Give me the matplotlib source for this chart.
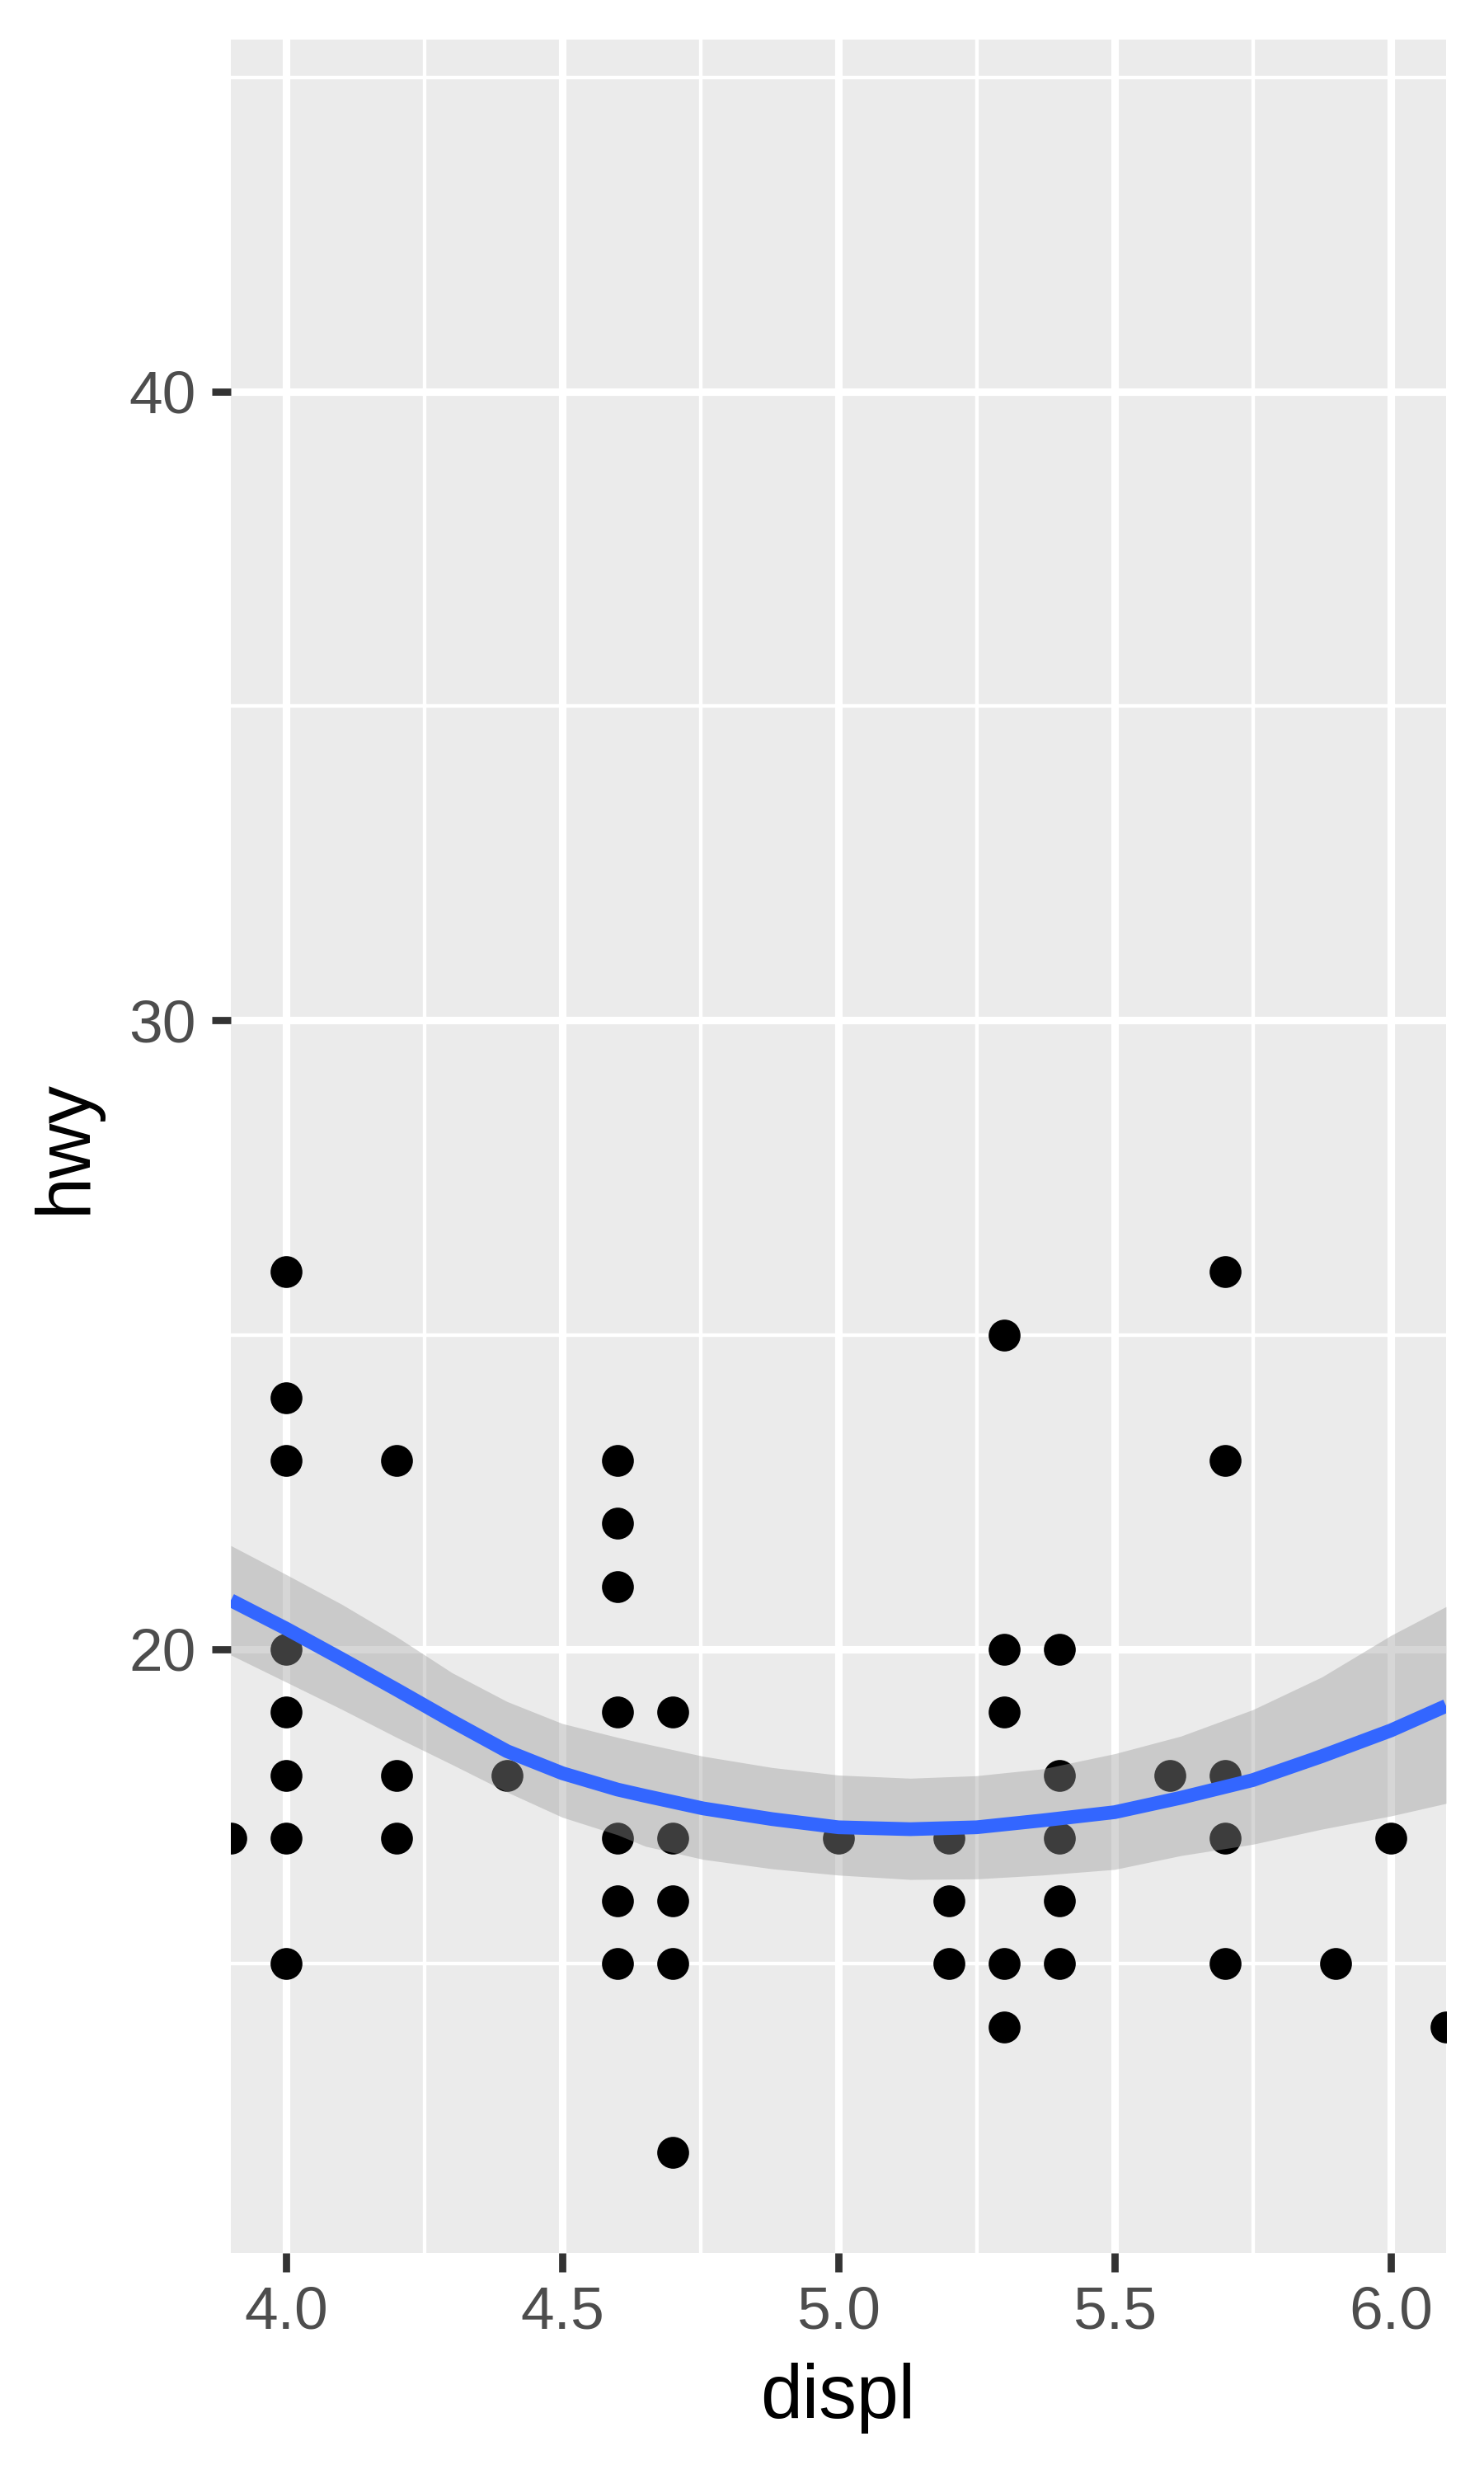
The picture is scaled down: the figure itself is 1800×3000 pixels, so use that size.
import matplotlib
matplotlib.use("Agg")
import matplotlib.pyplot as plt
from matplotlib.ticker import FixedLocator

# scatter data (displ vs hwy, zoomed to 4-6)
displ = [3.9,
         4.0, 4.0, 4.0, 4.0, 4.0, 4.0, 4.0, 4.0,
         4.2, 4.2, 4.2,
         4.4,
         4.6, 4.6, 4.6, 4.6, 4.6, 4.6, 4.6,
         4.7, 4.7, 4.7, 4.7, 4.7,
         5.0,
         5.2, 5.2, 5.2,
         5.3, 5.3, 5.3, 5.3, 5.3,
         5.4, 5.4, 5.4, 5.4, 5.4,
         5.6,
         5.7, 5.7, 5.7, 5.7, 5.7,
         5.9, 6.0, 6.1]
hwy = [17,
       26, 24, 23, 20, 19, 18, 17, 15,
       23, 18, 17,
       18,
       23, 22, 21, 19, 17, 16, 15,
       19, 17, 16, 15, 12,
       17,
       17, 16, 15,
       25, 20, 19, 15, 14,
       20, 18, 17, 16, 15,
       18,
       26, 23, 18, 17, 15,
       15, 17, 14]

# smoother + confidence band
smooth_x = [3.9, 4.0, 4.1, 4.2, 4.3, 4.4, 4.5, 4.6, 4.65, 4.755, 4.88,
            5.0, 5.13, 5.25, 5.37, 5.5, 5.62, 5.75, 5.875, 6.0, 6.1]
smooth_y = [20.78, 20.33, 19.85, 19.36, 18.86, 18.38, 18.03, 17.77, 17.67, 17.47, 17.30,
            17.17, 17.14, 17.17, 17.28, 17.41, 17.64, 17.92, 18.30, 18.71, 19.10]
smooth_hi = [21.65, 21.19, 20.72, 20.20, 19.63, 19.17, 18.82, 18.60, 18.50, 18.30, 18.12,
             18.00, 17.95, 17.99, 18.10, 18.34, 18.62, 19.04, 19.56, 20.22, 20.68]
smooth_lo = [19.91, 19.48, 19.05, 18.60, 18.17, 17.73, 17.33, 17.05, 16.87, 16.66, 16.51,
             16.41, 16.34, 16.35, 16.41, 16.50, 16.72, 16.90, 17.14, 17.35, 17.55]

x_major = [4.0, 4.5, 5.0, 5.5, 6.0]
x_minor = [4.25, 4.75, 5.25, 5.75]
y_major = [20, 30, 40]
y_minor = [15, 25, 35, 45]

plt.rcParams['font.family'] = ['Liberation Sans', 'DejaVu Sans']

fig = plt.figure(figsize=(6, 10), dpi=300)
ax = fig.add_axes([280 / 1800, 1 - 2732 / 3000, (1754 - 280) / 1800, (2732 - 48) / 3000])
ax.set_facecolor('#EBEBEB')
for s in ax.spines.values():
    s.set_visible(False)

ax.set_xlim(3.9, 6.1)
ax.set_ylim(10.4, 45.6)

ax.xaxis.set_major_locator(FixedLocator(x_major))
ax.xaxis.set_minor_locator(FixedLocator(x_minor))
ax.yaxis.set_major_locator(FixedLocator(y_major))
ax.yaxis.set_minor_locator(FixedLocator(y_minor))
ax.set_xticklabels(['%.1f' % v for v in x_major])
ax.set_yticklabels([str(v) for v in y_major])

ax.grid(which='major', color='white', linewidth=2.2)
ax.grid(which='minor', color='white', linewidth=1.05)
ax.set_axisbelow(True)

ax.tick_params(which='major', length=5.6, width=2.1, color='#333333',
               labelsize=17.6, labelcolor='#4D4D4D')
ax.tick_params(axis='x', which='major', pad=4.0)
ax.tick_params(axis='y', which='major', pad=4.5)
ax.tick_params(which='minor', length=0)

ax.scatter(displ, hwy, s=86, color='black', linewidths=0, zorder=2)
ax.fill_between(smooth_x, smooth_lo, smooth_hi, color='#999999', alpha=0.4,
                linewidth=0, zorder=3)
ax.plot(smooth_x, smooth_y, color='#3366FF', linewidth=4.0, zorder=4,
        solid_capstyle='butt', solid_joinstyle='round')

fig.text(1016 / 1800, 1 - 2908 / 3000, 'displ', ha='center', va='center',
         fontsize=22, color='black')
fig.text(80 / 1800, 1 - 1390 / 3000, 'hwy', ha='center', va='center',
         rotation=90, fontsize=22, color='black')

fig.savefig('out.png', dpi=300, facecolor='white')
